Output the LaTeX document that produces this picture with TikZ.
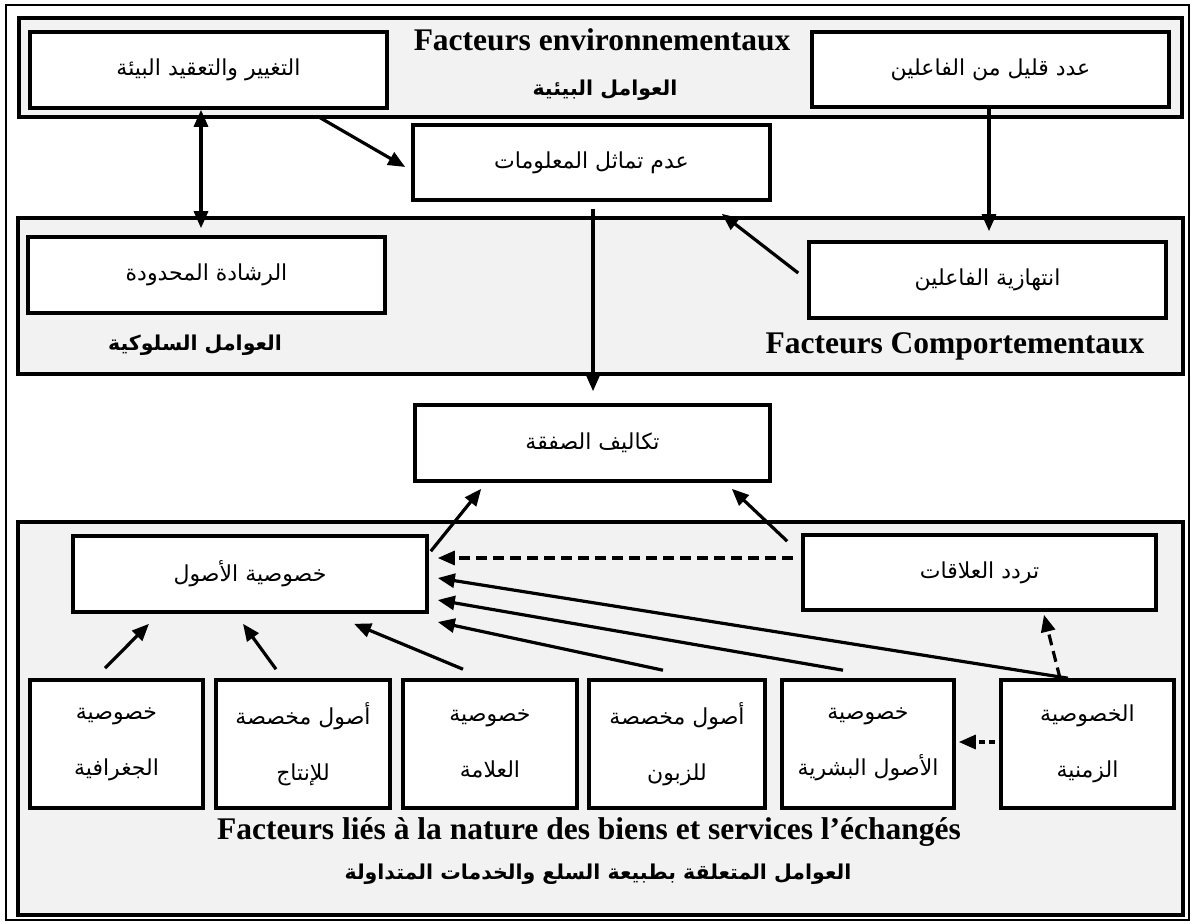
\documentclass[tikz,border=0pt]{standalone}
\usepackage{fontspec}
\setmainfont{Liberation Serif}
\newfontfamily\arabicfont[Script=Arabic]{DejaVu Sans}
\TeXXeTstate=1
\usetikzlibrary{arrows.meta}
\definecolor{panelgray}{HTML}{F2F2F2}
\newcommand{\artext}[1]{{\arabicfont\beginR #1\endR}}

\begin{document}
\begin{tikzpicture}[x=1pt,y=-1pt,
  panel/.style={draw, line width=4pt, fill=panelgray},
  box/.style={draw, line width=3.6pt, fill=white, inner sep=0pt, align=center,
    font={\arabicfont\fontsize{22pt}{56pt}\selectfont}},
  widebox/.style={box, minimum width=356pt, minimum height=76pt},
  smallbox/.style={box, minimum width=173pt, minimum height=128pt},
  frtitle/.style={anchor=base, inner sep=0pt, font={\bfseries\fontsize{31.5pt}{36pt}\selectfont}},
  artitle/.style={inner sep=0pt, font={\arabicfont\bfseries\fontsize{20.5pt}{25pt}\selectfont}},
  arr/.style={line width=3.2pt, -{Triangle[length=17pt,width=14pt]}},
  arrboth/.style={line width=3.2pt, {Triangle[length=17pt,width=14pt]}-{Triangle[length=17pt,width=14pt]}},
  darr/.style={arr, dash pattern=on 11pt off 6pt},
  shortdarr/.style={arr, dash pattern=on 6pt off 4pt}]

\useasboundingbox (0,0) rectangle (1192,924);
\fill[white] (0,0) rectangle (1192,924);

% outer frame and the three factor panels
\draw[line width=2.4pt] (6,5) rectangle (1189,920);
\draw[panel] (19,18) rectangle (1182,117);
\draw[panel] (18,218) rectangle (1183,374);
\draw[panel] (18,522) rectangle (1183,915);

% environmental factors
\node[widebox, minimum width=357pt] (A) at (208.5,70) {\artext{التغيير والتعقيد البيئة}};
\node[widebox, minimum width=357pt, minimum height=75pt] (B) at (990.5,69.5) {\artext{عدد قليل من الفاعلين}};
\node[frtitle] (envfr) at (602,50) {Facteurs environnementaux};
\node[artitle] (envar) at (605,90) {\artext{العوامل البيئية}};

% information asymmetry
\node[widebox, minimum width=357pt, minimum height=75pt] (I) at (591.5,162.5) {\artext{عدم تماثل المعلومات}};

% behavioural factors
\node[widebox, minimum width=357pt] (R) at (206.5,275) {\artext{الرشادة المحدودة}};
\node[widebox, minimum width=357pt] (O) at (987.5,280) {\artext{انتهازية الفاعلين}};
\node[frtitle] (compfr) at (955,353) {Facteurs Comportementaux};
\node[artitle] (compar) at (195,345) {\artext{العوامل السلوكية}};

% transaction costs
\node[widebox, minimum width=355pt] (T) at (592.5,443) {\artext{تكاليف الصفقة}};

% factors tied to the exchanged goods and services
\node[widebox, minimum width=354pt] (K) at (250,574) {\artext{خصوصية الأصول}};
\node[widebox, minimum width=353pt, minimum height=75pt] (D) at (979.5,572.5) {\artext{تردد العلاقات}};

\node[smallbox] (b1) at (116.5,744) {\artext{خصوصية}\\\artext{الجغرافية}};
\node[smallbox, minimum width=174pt] (b2) at (303,744) {\artext{أصول مخصصة}\\\artext{للإنتاج}};
\node[smallbox, minimum width=174pt] (b3) at (490,744) {\artext{خصوصية}\\\artext{العلامة}};
\node[smallbox, minimum width=176pt] (b4) at (677,744) {\artext{أصول مخصصة}\\\artext{للزبون}};
\node[smallbox, minimum width=172pt] (b5) at (868,744) {\artext{خصوصية}\\\artext{الأصول البشرية}};
\node[smallbox] (b6) at (1087.5,744) {\artext{الخصوصية}\\\artext{الزمنية}};

\node[frtitle] (natfr) at (589,839) {Facteurs liés à la nature des biens et services l’échangés};
\node[artitle] (natar) at (598,874) {\artext{العوامل المتعلقة بطبيعة السلع والخدمات المتداولة}};

% connectors
\draw[arr] ([xshift=110pt,yshift=-7pt]A.south) -- ([xshift=-6pt,yshift=-4.5pt]I.west);
\draw[arrboth] ([xshift=-7.5pt]A.south) -- ([xshift=-5.5pt,yshift=7pt]R.north);
\draw[arr] ([xshift=-1.5pt]B.south) -- ([xshift=1.5pt,yshift=9pt]O.north);
\draw[arr] ([xshift=-9pt,yshift=7pt]O.west) -- ([xshift=-50pt,yshift=-12pt]I.south east);
\draw[arr] ([xshift=1.5pt,yshift=-7pt]I.south) -- ([xshift=0.5pt,yshift=12pt]T.north);

\draw[arr] ([xshift=2pt,yshift=-17pt]K.north east) -- ([xshift=68pt,yshift=-6pt]T.south west);
\draw[arr] ([xshift=-14pt,yshift=-8pt]D.north west) -- ([xshift=-40pt,yshift=-6pt]T.south east);
\draw[darr] ([xshift=-8pt,yshift=14.5pt]D.west) -- ([xshift=9pt,yshift=16pt]K.east);

\draw[arr] ([xshift=-19.5pt]b6.north) -- ([xshift=9pt,yshift=-4pt]K.east);
\draw[arr] ([xshift=-25pt,yshift=8pt]b5.north) -- ([xshift=9pt,yshift=-26pt]K.east);
\draw[arr] ([xshift=-14pt,yshift=8pt]b4.north) -- ([xshift=9pt,yshift=-48pt]K.east);
\draw[arr] ([xshift=-11.5pt,yshift=10pt]b1.north) -- ([xshift=-101pt,yshift=-10pt]K.south);
\draw[arr] ([xshift=-27pt,yshift=9pt]b2.north) -- ([xshift=-7pt,yshift=-10pt]K.south);
\draw[arr] ([xshift=-27pt,yshift=9pt]b3.north) -- ([xshift=104pt,yshift=-10pt]K.south);

\draw[darr] ([xshift=-27.5pt]b6.north) -- ([xshift=64.5pt,yshift=-3pt]D.south);
\draw[shortdarr] ([xshift=-4pt,yshift=2pt]b6.west) -- ([xshift=3pt,yshift=2pt]b5.east);
\end{tikzpicture}
\end{document}
